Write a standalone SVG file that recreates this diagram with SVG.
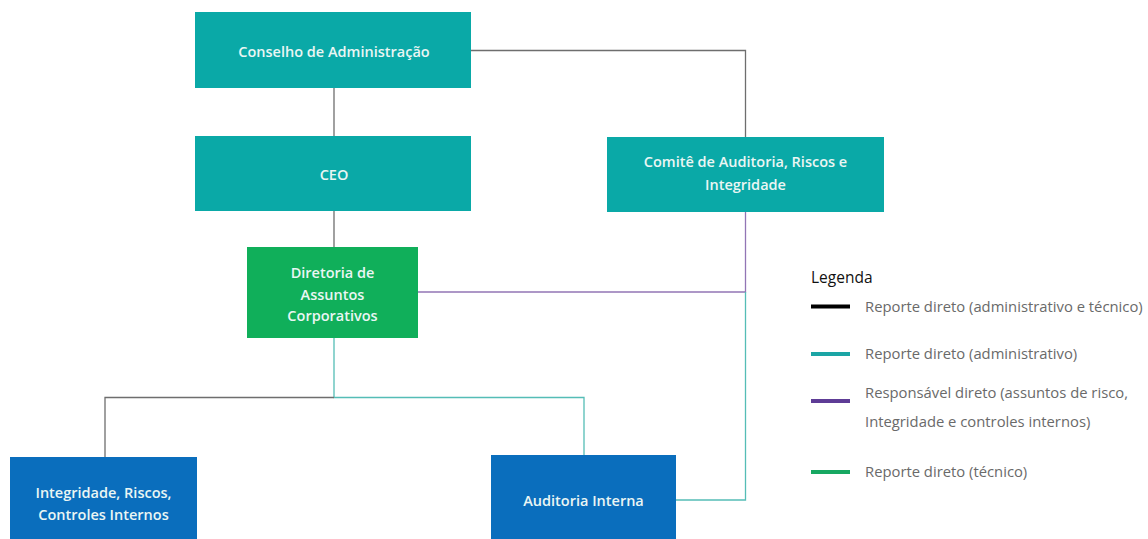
<svg xmlns="http://www.w3.org/2000/svg" width="1148" height="539" viewBox="0 0 1148 539">
<style>
.box-teal{fill:#0AA9A7}
.box-green{fill:#10AF5A}
.box-blue{fill:#0A6EBD}
.nt{font-family:"Open Sans","Liberation Sans",sans-serif;font-size:14.5px;font-weight:600;fill:#EAF6F4;text-anchor:middle}
.c{fill:none;stroke-width:1.3}
.gray{stroke:#6E6E6E}
.teal{stroke:#55BDB6}
.purple{stroke:#9275B5}
.lt{font-family:"Open Sans","Liberation Sans",sans-serif;font-size:14.8px;fill:#6A6A6A}
.lh{font-family:"Open Sans","Liberation Sans",sans-serif;font-size:15.5px;fill:#111}
.ll{stroke-width:4}
</style>
<rect width="1148" height="539" fill="#FFFFFF"/>
<g id="connectors">
<path class="c gray" d="M334 88 V136"/>
<path class="c gray" d="M471 50.5 H745.5 V137"/>
<path class="c gray" d="M334 211 V247"/>
<path class="c purple" d="M418 292 H745.5 V212"/>
<path class="c teal" d="M745.5 292 V500 H676"/>
<path class="c teal" d="M334 338 V397.5 H584 V455"/>
<path class="c gray" d="M334 397.5 H105 V457"/>
</g>
<g id="conselho">
<rect class="box-teal" x="195" y="12" width="276" height="76"/>
<text class="nt" x="334" y="57">Conselho de Administração</text>
</g>
<g id="ceo">
<rect class="box-teal" x="195" y="136" width="276" height="75"/>
<text class="nt" x="334" y="180">CEO</text>
</g>
<g id="comite">
<rect class="box-teal" x="607" y="137" width="277" height="75"/>
<text class="nt" x="745.5" y="167">Comitê de Auditoria, Riscos e</text>
<text class="nt" x="745.5" y="190">Integridade</text>
</g>
<g id="diretoria">
<rect class="box-green" x="247" y="247" width="171" height="91"/>
<text class="nt" x="332.5" y="278">Diretoria de</text>
<text class="nt" x="332.5" y="300">Assuntos</text>
<text class="nt" x="332.5" y="321">Corporativos</text>
</g>
<g id="integridade">
<rect class="box-blue" x="10" y="457" width="187" height="82"/>
<text class="nt" x="103.5" y="498">Integridade, Riscos,</text>
<text class="nt" x="103.5" y="520">Controles Internos</text>
</g>
<g id="auditoria">
<rect class="box-blue" x="491" y="455" width="185" height="84"/>
<text class="nt" x="583.5" y="506">Auditoria Interna</text>
</g>
<g id="legenda">
<text class="lh" x="811" y="283">Legenda</text>
<line class="ll" x1="811" y1="306.5" x2="850" y2="306.5" stroke="#000000"/>
<text class="lt" x="865" y="312">Reporte direto (administrativo e técnico)</text>
<line class="ll" x1="811" y1="354" x2="850" y2="354" stroke="#1BA5A5"/>
<text class="lt" x="865" y="359">Reporte direto (administrativo)</text>
<line class="ll" x1="811" y1="401" x2="850" y2="401" stroke="#5E3C96"/>
<text class="lt" x="865" y="398">Responsável direto (assuntos de risco,</text>
<text class="lt" x="865" y="427">Integridade e controles internos)</text>
<line class="ll" x1="811" y1="472" x2="850" y2="472" stroke="#17A862"/>
<text class="lt" x="865" y="477">Reporte direto (técnico)</text>
</g>
</svg>
